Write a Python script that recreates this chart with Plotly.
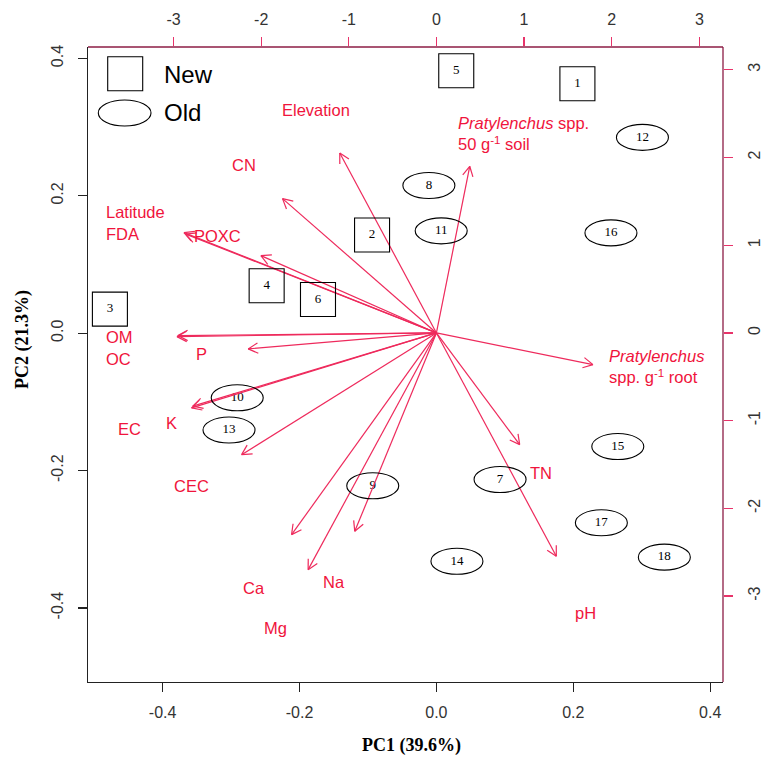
import math
import plotly.graph_objects as go

# ---------------- data ----------------
# site scores (PC1, PC2) on the bottom/left scale
site_ids = ["1", "2", "3", "4", "5", "6", "7", "8", "9", "10",
            "11", "12", "13", "14", "15", "16", "17", "18"]
site_pc1 = [0.206, -0.094, -0.477, -0.248, 0.029, -0.173, 0.093, -0.011, -0.093, -0.291,
            0.007, 0.301, -0.303, 0.030, 0.265, 0.255, 0.241, 0.333]
site_pc2 = [0.363, 0.143, 0.035, 0.069, 0.382, 0.049, -0.213, 0.215, -0.222, -0.094,
            0.149, 0.285, -0.141, -0.332, -0.165, 0.146, -0.276, -0.326]
site_group = ["New", "New", "New", "New", "New", "New", "Old", "Old", "Old", "Old",
              "Old", "Old", "Old", "Old", "Old", "Old", "Old", "Old"]

# variable loadings on the top/right scale
var_names = ["Elevation", "CN", "Latitude", "FDA", "POXC", "OM", "OC", "P", "EC", "K",
             "CEC", "Ca", "Mg", "Na", "Prat_soil", "Prat_root", "TN", "pH"]
var_pc1 = [-1.103, -1.756, -2.881, -2.860, -2.003, -2.961, -2.950, -2.148, -2.794, -2.780,
           -2.223, -1.653, -1.464, -0.932, 0.380, 1.786, 0.950, 1.368]
var_pc2 = [2.052, 1.531, 1.144, 1.127, 0.881, -0.042, -0.030, -0.182, -0.855, -0.835,
           -1.388, -2.300, -2.699, -2.262, 1.900, -0.361, -1.274, -2.547]

# variable label texts and where they sit (top/right scale)
lab_text = ["Elevation", "CN", "Latitude", "FDA", "POXC", "OM", "OC", "P", "EC", "K",
            "CEC", "Ca", "Mg", "Na",
            "<i>Pratylenchus</i> spp.<br>50 g<sup>-1</sup> soil",
            "<i>Pratylenchus</i><br>spp. g<sup>-1</sup> root", "TN", "pH"]
lab_x = [-1.376, -2.201, -3.790, -3.790, -2.794, -3.793, -3.793, -2.686, -3.497, -3.022,
         -2.794, -2.083, -1.840, -1.168, 0.228, 1.950, 1.197, 1.702]
lab_y = [2.547, 1.911, 1.375, 1.129, 1.109, -0.050, -0.293, -0.236, -1.091, -1.026,
         -1.749, -2.908, -3.364, -2.844, 2.273, -0.384, -1.596, -3.193]
lab_anchor = ["center", "center", "left", "left", "left", "left", "left", "center", "center", "center",
              "center", "center", "center", "center", "left", "left", "center", "center"]

x1_ticks = [-0.4, -0.2, 0.0, 0.2, 0.4]
y1_ticks = [-0.4, -0.2, 0.0, 0.2, 0.4]
x2_ticks = [-3, -2, -1, 0, 1, 2, 3]
y2_ticks = [-3, -2, -1, 0, 1, 2, 3]

# ---------------- layout constants ----------------
W, H = 763, 761
ML, MR, MT, MB = 88, 40, 47, 79
PW, PH = W - ML - MR, H - MT - MB
X1R = [-0.509, 0.4187]
Y1R = [-0.5077, 0.4166]
X2R = [-3.976, 3.27]
Y2R = [-3.98, 3.26]

RED_TXT = "#f0143c"
RED_ARR = "#ee2a5c"
MAROON = "#8c1c44"
TICKRED = "#e8336a"
DARK = "#222222"

fig = go.Figure()

# ---------------- arrows ----------------
ppu_x = PW / (X2R[1] - X2R[0])
ppu_y = PH / (Y2R[1] - Y2R[0])
head_len = 11.0
head_ang = math.radians(28)
ax_, ay_ = [], []
for vx, vy in zip(var_pc1, var_pc2):
    ax_ += [0, vx, None]
    ay_ += [0, vy, None]
    dx, dy = vx * ppu_x, vy * ppu_y
    ang = math.atan2(dy, dx)
    for s in (1, -1):
        a = ang + math.pi + s * head_ang
        hx = vx + head_len * math.cos(a) / ppu_x
        hy = vy + head_len * math.sin(a) / ppu_y
        ax_ += [vx, hx, None]
        ay_ += [vy, hy, None]
fig.add_trace(go.Scatter(x=ax_, y=ay_, mode="lines", xaxis="x2", yaxis="y2",
                         line=dict(color=RED_ARR, width=1.2), hoverinfo="skip"))

# ---------------- site labels ----------------
fig.add_trace(go.Scatter(x=site_pc1, y=site_pc2, mode="text", text=site_ids,
                         textfont=dict(family="Liberation Serif", size=13, color="black"),
                         hoverinfo="skip"))

shapes = []
for sx, sy, g in zip(site_pc1, site_pc2, site_group):
    if g == "New":
        shapes.append(dict(type="rect", xref="x", yref="y", xsizemode="pixel", ysizemode="pixel",
                           xanchor=sx, yanchor=sy, x0=-17.5, x1=17.5, y0=-17, y1=17,
                           line=dict(color="black", width=1.1)))
    else:
        shapes.append(dict(type="circle", xref="x", yref="y", xsizemode="pixel", ysizemode="pixel",
                           xanchor=sx, yanchor=sy, x0=-26, x1=26, y0=-13, y1=13,
                           line=dict(color="black", width=1.1)))

def px2paper_x(p):
    return (p - ML) / PW

def px2paper_y(p):
    return (H - MB - p) / PH

# legend symbols
shapes.append(dict(type="rect", xref="paper", yref="paper",
                   x0=px2paper_x(107.7), x1=px2paper_x(142.7),
                   y0=px2paper_y(90.7), y1=px2paper_y(56.7),
                   line=dict(color="black", width=1.1)))
shapes.append(dict(type="circle", xref="paper", yref="paper",
                   x0=px2paper_x(98.3), x1=px2paper_x(151),
                   y0=px2paper_y(126), y1=px2paper_y(100),
                   line=dict(color="black", width=1.1)))
# box: top & right maroon
shapes.append(dict(type="line", xref="paper", yref="paper", x0=0, x1=1, y0=1, y1=1,
                   line=dict(color=MAROON, width=1.3)))
shapes.append(dict(type="line", xref="paper", yref="paper", x0=1, x1=1, y0=0, y1=1,
                   line=dict(color=MAROON, width=1.3)))

annotations = []
for t, lx, ly, anc in zip(lab_text, lab_x, lab_y, lab_anchor):
    annotations.append(dict(x=lx, y=ly, xref="x2", yref="y2", text=t, showarrow=False,
                            xanchor=anc, yanchor="middle", align="left",
                            font=dict(family="Liberation Sans", size=16.5, color=RED_TXT)))

annotations.append(dict(x=px2paper_x(162), y=px2paper_y(74), xref="paper", yref="paper",
                        text="New", showarrow=False, xanchor="left", yanchor="middle",
                        font=dict(family="Liberation Sans", size=24, color="black")))
annotations.append(dict(x=px2paper_x(162), y=px2paper_y(113), xref="paper", yref="paper",
                        text="Old", showarrow=False, xanchor="left", yanchor="middle",
                        font=dict(family="Liberation Sans", size=24, color="black")))
annotations.append(dict(x=px2paper_x(411), y=px2paper_y(745), xref="paper", yref="paper",
                        text="<b>PC1 (39.6%)</b>", showarrow=False, xanchor="center", yanchor="middle",
                        font=dict(family="Liberation Serif", size=18, color="black")))
annotations.append(dict(x=px2paper_x(22), y=px2paper_y(340), xref="paper", yref="paper",
                        text="<b>PC2 (21.3%)</b>", showarrow=False, xanchor="center", yanchor="middle",
                        textangle=-90,
                        font=dict(family="Liberation Serif", size=18, color="black")))

tickfont = dict(family="Liberation Sans", size=16, color="#333333")

fig.update_layout(
    width=W, height=H,
    margin=dict(l=ML, r=MR, t=MT, b=MB, autoexpand=False),
    paper_bgcolor="white", plot_bgcolor="white",
    showlegend=False,
    hovermode=False,
    shapes=shapes,
    annotations=annotations,
    xaxis=dict(range=X1R, tickvals=x1_ticks, ticktext=[f"{v:.1f}" for v in x1_ticks],
               showgrid=False, zeroline=False, showline=True, linecolor=DARK, linewidth=1.3,
               ticks="outside", ticklen=9, tickcolor=DARK, tickwidth=1.2, automargin=False,
               tickfont=tickfont, ticklabelstandoff=6, fixedrange=True),
    yaxis=dict(range=Y1R, tickvals=y1_ticks, ticktext=[f"{v:.1f}" for v in y1_ticks],
               showgrid=False, zeroline=False, showline=True, linecolor=DARK, linewidth=1.3,
               ticks="outside", ticklen=9, tickcolor=DARK, tickwidth=1.2, tickangle=-90,
               automargin=False,
               tickfont=tickfont, ticklabelstandoff=8, fixedrange=True),
    xaxis2=dict(range=X2R, overlaying="x", side="top", anchor="y2",
                tickvals=x2_ticks, ticktext=[str(v) for v in x2_ticks],
                showgrid=False, zeroline=False, showline=False, automargin=False,
                ticks="outside", ticklen=9, tickcolor=TICKRED, tickwidth=1.2,
                tickfont=tickfont, ticklabelstandoff=6, fixedrange=True),
    yaxis2=dict(range=Y2R, overlaying="y", side="right", anchor="x2",
                tickvals=y2_ticks, ticktext=[str(v) for v in y2_ticks],
                showgrid=False, zeroline=False, showline=False, automargin=False,
                ticks="outside", ticklen=9, tickcolor=TICKRED, tickwidth=1.2, tickangle=-90,
                tickfont=tickfont, ticklabelstandoff=8, fixedrange=True),
)

fig.write_html("out.html", config={"displayModeBar": False, "staticPlot": True},
               post_script="document.body.style.margin='0px';")
